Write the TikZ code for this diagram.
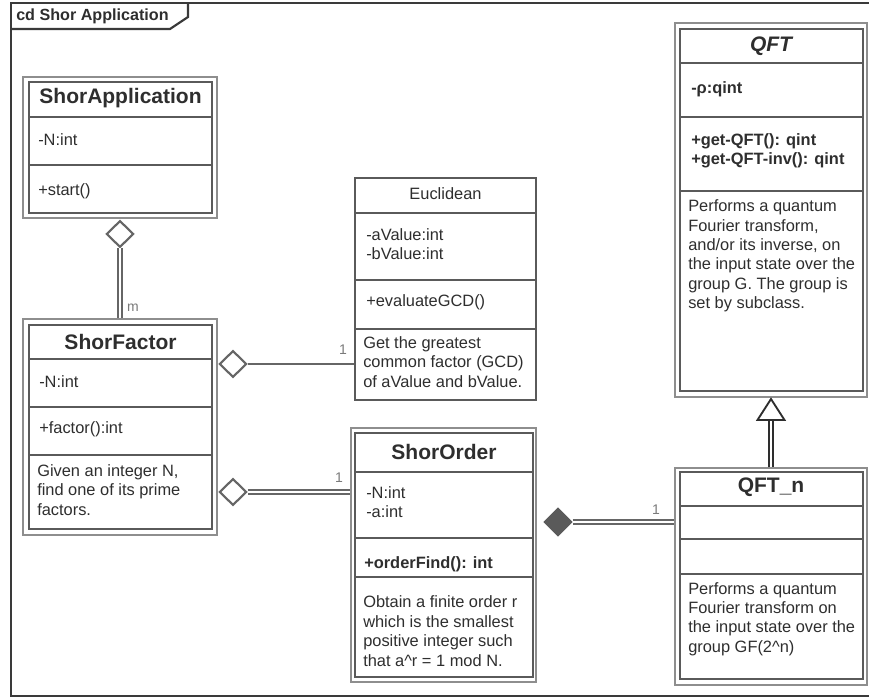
\documentclass[tikz,border=0pt]{standalone}
\usepackage{fontspec}
\setmainfont{Liberation Sans}
\usetikzlibrary{shapes.geometric,fit,calc}
\definecolor{ink}{HTML}{2E2E2E}
\definecolor{edge}{HTML}{666666}
\definecolor{rim}{HTML}{8E8E8E}
\definecolor{sepc}{HTML}{5A5A5A}
\definecolor{framec}{HTML}{3A3A3A}
\definecolor{multc}{HTML}{7A7A7A}

\begin{document}
\begin{tikzpicture}[x=0.75pt,y=-0.75pt,
  outerbox/.style={draw=rim, line width=1.1pt, inner sep=0pt, fill=white},
  innerbox/.style={draw=sepc, line width=1.1pt, inner sep=0pt},
  singlebox/.style={draw=sepc, line width=1.1pt, inner sep=0pt, fill=white},
  sepline/.style={draw=sepc, line width=1pt},
  titletext/.style={text=ink, inner sep=0pt, font=\fontsize{15.75}{18}\selectfont\bfseries},
  bodytext/.style={text=ink, inner sep=0pt, anchor=west, align=left, font=\fontsize{12.3}{14.6}\selectfont},
  boldtext/.style={bodytext, font=\fontsize{12.3}{14.6}\selectfont\bfseries},
  multtext/.style={text=multc, inner sep=0pt, font=\fontsize{10.5}{12}\selectfont},
  aggdiamond/.style={diamond, aspect=1, draw=edge, line width=1.6pt, fill=white, inner sep=0pt, minimum width=20.5pt, minimum height=20pt},
  compdiamond/.style={diamond, aspect=1, draw=sepc, line width=1pt, fill=sepc, inner sep=0pt, minimum width=21pt, minimum height=21pt},
  dblline/.style={draw=edge, line width=1.3pt, double=white, double distance=1.4pt},
  sglline/.style={draw=edge, line width=1.6pt},
]
\useasboundingbox (0,0) rectangle (869,698);

% frame and its name tab
\draw[framec, line width=1.6pt] (869,3) -- (11,3) -- (11,696) -- (869,696);
\draw[framec, line width=1.6pt] (11,29) -- (170,29) -- (188,17) -- (188,3);
\node[text=ink, inner sep=0pt, anchor=west, font=\fontsize{12.1}{14}\selectfont\bfseries] (tab) at (16,16) {cd Shor Application};

% ShorApplication
\node[outerbox, fit={(23,77) (217,218)}] (sa) {};
\node[innerbox, fit={(29,82) (212,213)}] (sa-i) {};
\draw[sepline] (sa-i.west |- 0,117) -- (sa-i.east |- 0,117);
\draw[sepline] (sa-i.west |- 0,165) -- (sa-i.east |- 0,165);
\node[titletext] (sa-t) at (120.5,98) {ShorApplication};
\node[bodytext] (sa-a) at (38,140) {-N:int};
\node[bodytext] (sa-m) at (38,191) {+start()};

% ShorFactor
\node[outerbox, fit={(23,319) (217,535)}] (sf) {};
\node[innerbox, fit={(29,325) (212,529)}] (sf-i) {};
\draw[sepline] (sf-i.west |- 0,359) -- (sf-i.east |- 0,359);
\draw[sepline] (sf-i.west |- 0,407) -- (sf-i.east |- 0,407);
\draw[sepline] (sf-i.west |- 0,455) -- (sf-i.east |- 0,455);
\node[titletext] (sf-t) at (120.5,342) {ShorFactor};
\node[bodytext] (sf-a) at (39,382) {-N:int};
\node[bodytext] (sf-m) at (39,429) {+factor():int};
\node[bodytext] (sf-d) at (37,490) {Given an integer N,\\find one of its prime\\factors.};

% Euclidean
\node[singlebox, fit={(355,178) (536,400)}] (eu) {};
\draw[sepline] (eu.west |- 0,213) -- (eu.east |- 0,213);
\draw[sepline] (eu.west |- 0,280) -- (eu.east |- 0,280);
\draw[sepline] (eu.west |- 0,329) -- (eu.east |- 0,329);
\node[text=ink, inner sep=0pt, font=\fontsize{12.3}{14.6}\selectfont] (eu-t) at (445.5,194) {Euclidean};
\node[bodytext] (eu-a) at (366,244) {-aValue:int\\-bValue:int};
\node[bodytext] (eu-m) at (366,302) {+evaluateGCD()};
\node[bodytext] (eu-d) at (363,362) {Get the greatest\\common factor (GCD)\\of aValue and bValue.};

% ShorOrder
\node[outerbox, fit={(351,428) (536,682)}] (so) {};
\node[innerbox, fit={(355,433) (533,677)}] (so-i) {};
\draw[sepline] (so-i.west |- 0,472) -- (so-i.east |- 0,472);
\draw[sepline] (so-i.west |- 0,538) -- (so-i.east |- 0,538);
\draw[sepline] (so-i.west |- 0,577) -- (so-i.east |- 0,577);
\node[titletext] (so-t) at (444,452) {ShorOrder};
\node[bodytext] (so-a) at (366,502) {-N:int\\-a:int};
\node[boldtext] (so-m) at (364,564) {+orderFind(): int};
\node[bodytext] (so-d) at (363,631) {Obtain a finite order r\\which is the smallest\\positive integer such\\that a\textasciicircum r = 1 mod N.};

% QFT
\node[outerbox, fit={(675,23) (867,397)}] (qft) {};
\node[innerbox, fit={(680,29) (863,391)}] (qft-i) {};
\draw[sepline] (qft-i.west |- 0,63) -- (qft-i.east |- 0,63);
\draw[sepline] (qft-i.west |- 0,117) -- (qft-i.east |- 0,117);
\draw[sepline] (qft-i.west |- 0,191) -- (qft-i.east |- 0,191);
\node[titletext, font=\fontsize{15.75}{18}\selectfont\bfseries\itshape] (qft-t) at (771,46) {QFT};
\node[boldtext] (qft-a) at (691,89) {-ρ:qint};
\node[boldtext] (qft-m) at (691,151) {+get-QFT(): qint\\+get-QFT-inv(): qint};
\node[bodytext] (qft-d) at (688,256) {Performs a quantum\\Fourier transform,\\and/or its inverse, on\\the input state over the\\group G. The group is\\set by subclass.};

% QFT_n
\node[outerbox, fit={(675,468) (867,685)}] (qn) {};
\node[innerbox, fit={(680,472) (863,679)}] (qn-i) {};
\draw[sepline] (qn-i.west |- 0,506) -- (qn-i.east |- 0,506);
\draw[sepline] (qn-i.west |- 0,539) -- (qn-i.east |- 0,539);
\draw[sepline] (qn-i.west |- 0,574) -- (qn-i.east |- 0,574);
\node[titletext] (qn-t) at (771,487) {QFT\_n};
\node[bodytext] (qn-d) at (688,619) {Performs a quantum\\Fourier transform on\\the input state over the\\group GF(2\textasciicircum n)};

% aggregation ShorApplication -- ShorFactor
\node[aggdiamond] (dsa) at (120,234) {};
\draw[dblline] (dsa.south) -- (dsa.south |- sf.north);
\node[multtext] (m-sa) at (133,308) {m};

% aggregation ShorFactor -- Euclidean
\node[aggdiamond] (deu) at (233,364) {};
\draw[sglline] (deu.east) -- (deu.east -| eu.west);
\node[multtext] (m-eu) at (343,350) {1};

% aggregation ShorFactor -- ShorOrder
\node[aggdiamond] (dso) at (233,492) {};
\draw[dblline] (dso.east) -- (dso.east -| so.west);
\node[multtext] (m-so) at (339,478) {1};

% composition ShorOrder -- QFT_n
\node[compdiamond] (dqn) at (558,522) {};
\draw[dblline] (dqn.east) -- (dqn.east -| qn.west);
\node[multtext] (m-qn) at (656,510) {1};

% generalization QFT_n -> QFT
\coordinate (gbase) at (771,420);
\coordinate (gtip) at (771,399);
\draw[dblline, draw=ink] (gbase |- qn.north) -- (gbase);
\draw[ink, line width=1.4pt, fill=white, line join=miter] ($(gbase)+(-13.5,0)$) -- (gtip) -- ($(gbase)+(13.5,0)$) -- cycle;
\end{tikzpicture}
\end{document}
